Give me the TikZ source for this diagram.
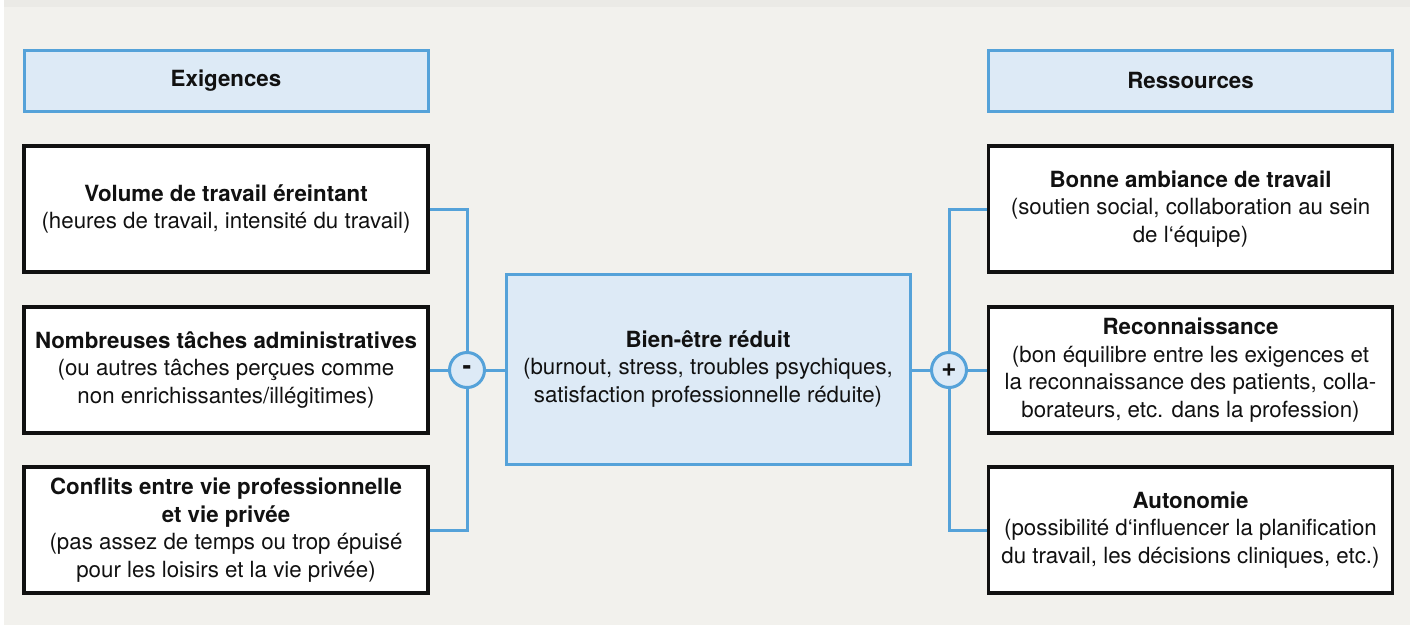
\documentclass[tikz,border=0pt]{standalone}
\usepackage{fontspec}
\setmainfont{TeX Gyre Heros}
\definecolor{bgbeige}{HTML}{F2F1ED}
\definecolor{topgray}{HTML}{EBEAE6}
\definecolor{lineblue}{HTML}{55A2D9}
\definecolor{fillblue}{HTML}{DDEAF6}
\definecolor{inkblack}{HTML}{111111}
\tikzset{
  txt/.style={font=\fontsize{22.3}{27.5}\selectfont, text=inkblack, align=center, inner sep=0pt},
  headbox/.style={txt, draw=lineblue, line width=3pt, fill=fillblue, minimum width=404pt, minimum height=61pt},
  itembox/.style={txt, draw=inkblack, line width=3.2pt, fill=white, minimum width=404pt, minimum height=126pt},
  centerbox/.style={txt, draw=lineblue, line width=3pt, fill=fillblue, minimum width=404pt, minimum height=190pt},
  signcirc/.style={circle, draw=lineblue, line width=3pt, fill=fillblue, minimum size=35pt, inner sep=0pt, font=\fontsize{26}{26}\selectfont\bfseries, text=inkblack},
  conn/.style={draw=lineblue, line width=3pt}
}
\begin{document}
\begin{tikzpicture}[x=1pt,y=-1pt]
\useasboundingbox (0,0) rectangle (1413,630);
\fill[white] (0,0) rectangle (1413,630);
\fill[topgray] (4,0) rectangle (1410,7);
\fill[bgbeige] (4,7) rectangle (1410,625);

\node[headbox] (hexig) at (226,80.5) {\textbf{Exigences}};
\node[headbox] (hres) at (1190.5,80.5) {\textbf{Ressources}};

\node[itembox] (l1) at (226,209) {\textbf{Volume de travail éreintant}\\(heures de travail, intensité du travail)};
\node[itembox] (l2) at (226,370) {\textbf{Nombreuses tâches administratives}\\(ou autres tâches perçues comme\\non enrichissantes/illégitimes)};
\node[itembox] (l3) at (226,530) {\textbf{Conflits entre vie professionnelle}\\\textbf{et vie privée}\\(pas assez de temps ou trop épuisé\\pour les loisirs et la vie privée)};

\node[itembox] (r1) at (1190.5,209) {\textbf{Bonne ambiance de travail}\\(soutien social, collaboration au sein\\de l‘équipe)};
\node[itembox] (r2) at (1190.5,370) {\textbf{Reconnaissance}\\(bon équilibre entre les exigences et\\la reconnaissance des patients, colla-\\borateurs, etc. dans la profession)};
\node[itembox] (r3) at (1190.5,530) {\textbf{Autonomie}\\(possibilité d‘influencer la planification\\du travail, les décisions cliniques, etc.)};

\node[centerbox] (c) at (708,369) {\textbf{Bien-être réduit}\\(burnout, stress, troubles psychiques,\\satisfaction professionnelle réduite)};

\node[signcirc] (minus) at (467,370) {-};
\node[signcirc] (plus) at (949,370) {+};

\draw[conn] (l1.east) -| (minus.north);
\draw[conn] (l3.east) -| (minus.south);
\draw[conn] (l2.east) -- (minus.west);
\draw[conn] (minus.east) -- (c.west |- minus.east);
\draw[conn] (c.east |- plus.west) -- (plus.west);
\draw[conn] (plus.east) -- (r2.west);
\draw[conn] (plus.north) |- (r1.west);
\draw[conn] (plus.south) |- (r3.west);
\end{tikzpicture}
\end{document}
